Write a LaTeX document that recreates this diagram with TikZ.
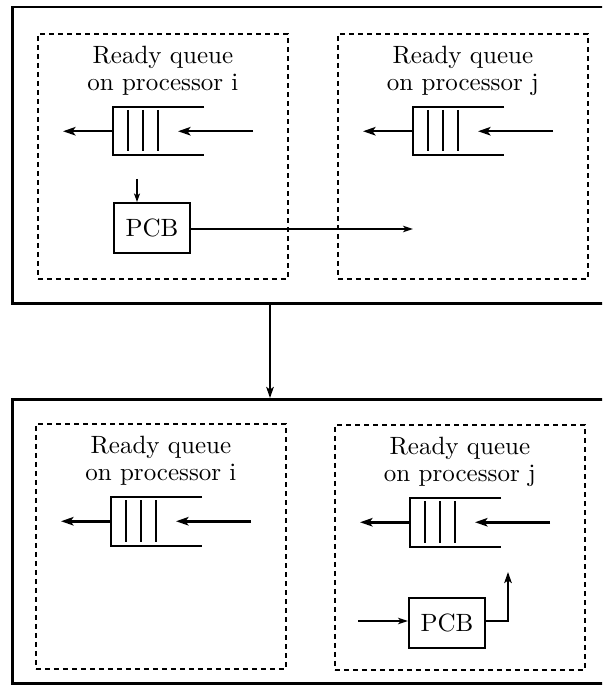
\documentclass[tikz,border=0pt]{standalone}
\usetikzlibrary{arrows.meta,calc}

\tikzset{
  outerbox/.style={draw, line width=1pt, inner sep=0pt},
  panel/.style={draw, line width=0.7pt, dash pattern=on 2pt off 1.6pt,
                minimum width=100pt, minimum height=98pt, inner sep=0pt},
  title/.style={align=center, inner sep=0pt, font=\fontsize{10}{10.8}\selectfont},
  qbox/.style={draw=none, minimum width=36pt, minimum height=19pt, inner sep=0pt},
  qline/.style={line width=0.8pt},
  flow/.style={line width=1pt, -{Stealth[length=5pt,width=3.4pt,inset=1.2pt]}},
  thin/.style={line width=0.6pt, -{Stealth[length=4pt,width=2.6pt,inset=1pt]}},
  pcbbox/.style={draw, line width=0.8pt, minimum width=30.4pt, minimum height=20pt,
                 inner sep=0pt, font=\fontsize{10}{12}\selectfont},
}

% one processor panel: dashed frame, caption and its ready queue
\newcommand\readyqueue[4]{%
  \node[panel, anchor=north west] (#1) at (#2,#3) {};
  \node[title, anchor=north] (#1t) at ($(#1.north)+(0,13)$) {Ready queue\\on processor #4};
  \node[qbox, anchor=north west] (#1q) at ($(#1.north west)+(76,74)$) {};
  \draw[qline] (#1q.north east) -- (#1q.north west) -- (#1q.south west) -- (#1q.south east);
  \foreach \k in {1,2,3}
    \draw[qline] ($(#1q.north west)+(15*\k,3)$) -- ($(#1q.south west)+(15*\k,-4)$);
  \coordinate (#1o) at ($(#1q.west)+(-50,0)$);
  \coordinate (#1i) at ($(#1q.west)+(140,0)$);
  \coordinate (#1h) at ($(#1q.west)+(65,0)$);
  \draw[flow] (#1q.west) -- (#1o);
  \draw[flow] (#1i) -- (#1h);
}

\begin{document}
\begin{tikzpicture}[x=0.4pt, y=-0.4pt]
  \useasboundingbox (0,0) rectangle (602,692);
  \clip (0,0) rectangle (602,692);

  % system state before and after the migration
  \node[outerbox, anchor=north west, minimum width=252pt, minimum height=118.4pt] (before) at (11,6) {};
  \node[outerbox, anchor=north west, minimum width=252pt, minimum height=113.6pt] (after) at (11,398) {};
  \coordinate (mid) at (270,350);
  \draw[line width=0.8pt, -{Stealth[length=4.4pt,width=3pt,inset=1pt]}]
    (mid |- before.south) -- (mid |- after.north);

  % before: PCB leaves processor i for processor j
  \readyqueue{bi}{37}{33}{i}
  \readyqueue{bj}{337}{33}{j}
  \node[pcbbox, anchor=north west] (pcbA) at (113,202) {PCB};
  \coordinate (drop) at (137,179);
  \draw[line width=0.6pt, -{Stealth[length=3.4pt,width=2.4pt,inset=0.8pt]}] (drop) -- (drop |- pcbA.north);
  \coordinate (toj) at (413,229);
  \draw[thin] (pcbA.east |- toj) -- (toj);

  % after: PCB now on processor j
  \readyqueue{ai}{35}{423}{i}
  \readyqueue{aj}{334}{424}{j}
  \node[pcbbox, anchor=north west] (pcbB) at (408,597) {PCB};
  \coordinate (inB) at (358,621);
  \coordinate (upB) at (508,572);
  \draw[thin] (inB) -- (pcbB.west |- inB);
  \draw[line width=0.8pt, -{Stealth[length=4.4pt,width=3pt,inset=1pt]}]
    (pcbB.east |- inB) -| (upB);
\end{tikzpicture}
\end{document}
